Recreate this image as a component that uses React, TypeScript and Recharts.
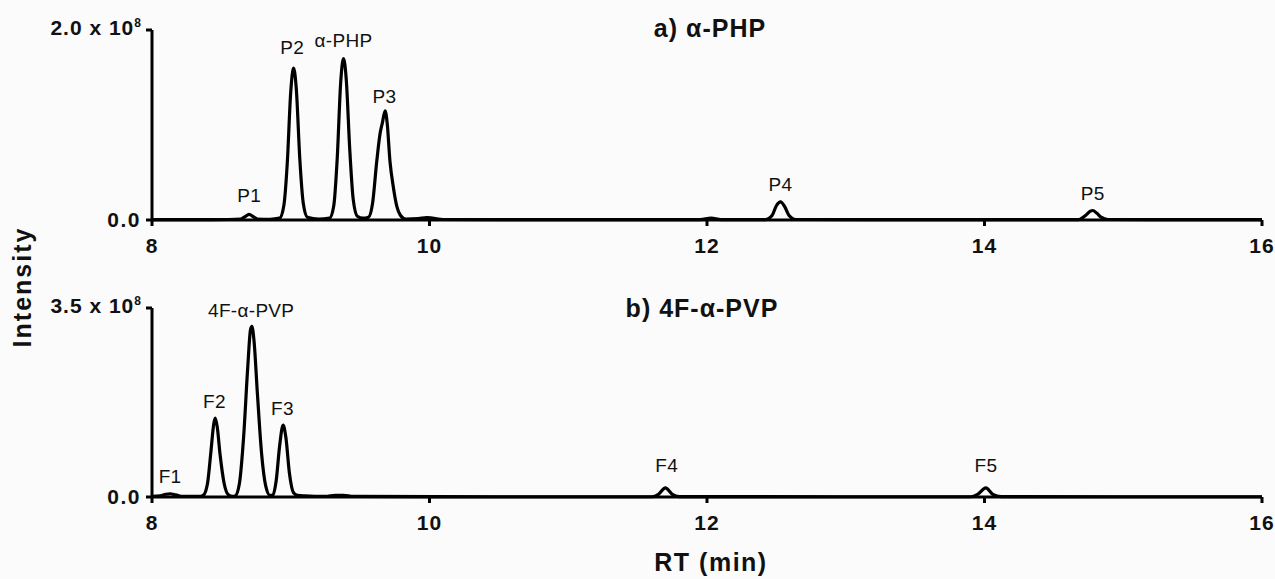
import { LineChart, Line, XAxis, YAxis, ReferenceDot } from "recharts"

const FONT = '"Liberation Sans", Arial, Helvetica, sans-serif'

// retention time (min), intensity (x 10^8)
const TRACE_PHP: [number, number][] = [
  [8.0, 0.003], [8.3, 0.004], [8.55, 0.005], [8.64, 0.01], [8.67, 0.035], [8.7, 0.06],
  [8.73, 0.035], [8.76, 0.01], [8.85, 0.008], [8.92, 0.02], [8.95, 0.15], [8.975, 0.6],
  [9.0, 1.35], [9.02, 1.6], [9.04, 1.38], [9.065, 0.65], [9.09, 0.18], [9.12, 0.03],
  [9.2, 0.01], [9.28, 0.02], [9.31, 0.15], [9.335, 0.65], [9.36, 1.45], [9.38, 1.7],
  [9.4, 1.48], [9.425, 0.75], [9.45, 0.22], [9.48, 0.04], [9.52, 0.02], [9.56, 0.03],
  [9.59, 0.18], [9.62, 0.62], [9.645, 0.92], [9.66, 1.02], [9.68, 1.15], [9.695, 1.02],
  [9.715, 0.62], [9.74, 0.34], [9.765, 0.14], [9.79, 0.05], [9.83, 0.01], [9.92, 0.015],
  [9.98, 0.025], [10.02, 0.02], [10.1, 0.005], [11.0, 0.004], [11.95, 0.004], [12.03, 0.02],
  [12.1, 0.004], [12.42, 0.004], [12.47, 0.05], [12.5, 0.15], [12.53, 0.19], [12.56, 0.14],
  [12.59, 0.05], [12.64, 0.005], [13.5, 0.004], [14.68, 0.005], [14.73, 0.05], [14.76, 0.09],
  [14.78, 0.1], [14.81, 0.07], [14.84, 0.03], [14.89, 0.005], [15.5, 0.004], [16.0, 0.003],
]

const TRACE_PVP: [number, number][] = [
  [8.0, 0.01], [8.06, 0.02], [8.1, 0.05], [8.13, 0.06], [8.17, 0.04], [8.22, 0.01],
  [8.35, 0.01], [8.37, 0.03], [8.4, 0.25], [8.425, 0.85], [8.445, 1.35], [8.455, 1.46],
  [8.47, 1.3], [8.49, 0.8], [8.52, 0.25], [8.55, 0.04], [8.58, 0.01], [8.6, 0.02],
  [8.63, 0.25], [8.66, 1.1], [8.69, 2.4], [8.71, 3.1], [8.72, 3.16], [8.735, 2.9],
  [8.76, 1.9], [8.79, 0.8], [8.82, 0.2], [8.85, 0.03], [8.87, 0.03], [8.895, 0.3],
  [8.92, 0.95], [8.945, 1.33], [8.965, 1.1], [8.99, 0.45], [9.02, 0.08], [9.05, 0.03],
  [9.1, 0.02], [9.25, 0.01], [9.32, 0.03], [9.38, 0.03], [9.45, 0.01], [10.5, 0.005],
  [11.6, 0.005], [11.65, 0.05], [11.7, 0.17], [11.75, 0.05], [11.8, 0.008], [13.0, 0.005],
  [13.9, 0.005], [13.95, 0.05], [14.01, 0.17], [14.06, 0.05], [14.12, 0.008], [15.0, 0.005],
  [16.0, 0.005],
]

// peak names and where the name sits (rt, intensity)
const PEAKS_PHP: [string, number, number][] = [
  ["P1", 8.7, 0.26], ["P2", 9.01, 1.82], ["α-PHP", 9.38, 1.89], ["P3", 9.675, 1.3],
  ["P4", 12.53, 0.38], ["P5", 14.78, 0.28],
]
const PEAKS_PVP: [string, number, number][] = [
  ["F1", 8.13, 0.38], ["F2", 8.45, 1.77], ["4F-α-PVP", 8.715, 3.46], ["F3", 8.94, 1.65],
  ["F4", 11.71, 0.58], ["F5", 14.01, 0.58],
]

const RT_TICKS = [8, 10, 12, 14, 16]
const MAX_PHP = 2.0
const MAX_PVP = 3.5

const toRows = (trace: [number, number][]) => trace.map(([t, v]) => ({ t, v }))

function XTick(props: any) {
  const { x, y, payload } = props
  return (
    <text x={x} y={y} dy={27} textAnchor="middle" fontFamily={FONT} fontWeight="bold" fontSize={21} letterSpacing={1} fill="#111">
      {payload.value}
    </text>
  )
}

function YTick(props: any) {
  const { x, y, payload } = props
  const v = payload.value
  if (v === 0) {
    return (
      <text x={x - 5} y={y} dy={7} textAnchor="end" fontFamily={FONT} fontWeight="bold" fontSize={21} letterSpacing={1.5} fill="#111">
        0.0
      </text>
    )
  }
  return (
    <text x={x - 5} y={y} dy={5} textAnchor="end" fontFamily={FONT} fontWeight="bold" fontSize={21} letterSpacing={1} fill="#111">
      {v.toFixed(1)} x 10
      <tspan dy={-8} fontSize={12} letterSpacing={0}>8</tspan>
    </text>
  )
}

function Trace({ rows, peaks, max, height, top }: any) {
  return (
    <LineChart width={1275} height={height} data={rows} margin={{ top, right: 13, bottom: 0, left: 0 }}>
      <XAxis
        type="number"
        dataKey="t"
        domain={[8, 16]}
        ticks={RT_TICKS}
        allowDataOverflow
        height={40}
        tickSize={6}
        tickMargin={0}
        axisLine={{ stroke: "#000", strokeWidth: 3 }}
        tickLine={{ stroke: "#000", strokeWidth: 3 }}
        tick={<XTick />}
      />
      <YAxis
        type="number"
        domain={[0, max]}
        ticks={[0, max]}
        width={152}
        tickSize={6}
        tickMargin={0}
        axisLine={{ stroke: "#000", strokeWidth: 3 }}
        tickLine={{ stroke: "#000", strokeWidth: 3 }}
        tick={<YTick />}
      />
      <Line
        type="monotone"
        dataKey="v"
        stroke="#000"
        strokeWidth={3.2}
        dot={false}
        isAnimationActive={false}
      />
      {peaks.map(([name, t, v]: [string, number, number]) => (
        <ReferenceDot
          key={name}
          x={t}
          y={v}
          r={1}
          fill="none"
          stroke="none"
          ifOverflow="visible"
          label={{ value: name, position: "center", fontSize: 19, fill: "#111", fontFamily: FONT, letterSpacing: 0.3 }}
        />
      ))}
    </LineChart>
  )
}

export default function App() {
  return (
    <div style={{ position: "absolute", left: 0, top: 0, width: 1275, height: 579, background: "#fbfbfb", overflow: "hidden" }}>
      <div style={{ position: "absolute", left: 0, top: 0 }}>
        <Trace rows={toRows(TRACE_PHP)} peaks={PEAKS_PHP} max={MAX_PHP} height={260} top={30} />
      </div>
      <div style={{ position: "absolute", left: 0, top: 260 }}>
        <Trace rows={toRows(TRACE_PVP)} peaks={PEAKS_PVP} max={MAX_PVP} height={277} top={48} />
      </div>
      <svg width={1275} height={579} style={{ position: "absolute", left: 0, top: 0, pointerEvents: "none" }}>
        <g fontFamily={FONT} fontWeight="bold" fill="#111" fontSize={25} letterSpacing={1}>
          <text x={710} y={37} textAnchor="middle">a) α-PHP</text>
          <text x={702} y={317} textAnchor="middle">b) 4F-α-PVP</text>
          <text x={711} y={571} textAnchor="middle" letterSpacing={1.5}>RT (min)</text>
          <text transform="translate(31 287) rotate(-90)" textAnchor="middle" letterSpacing={2}>Intensity</text>
        </g>
      </svg>
    </div>
  )
}
